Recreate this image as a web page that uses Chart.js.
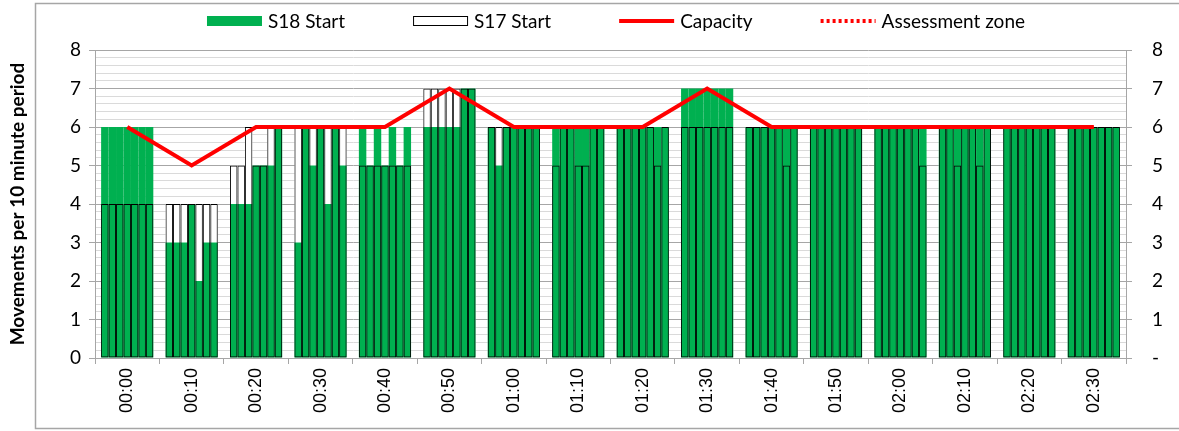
<!DOCTYPE html>
<html>
<head>
<meta charset="utf-8">
<title>Movements per 10 minute period</title>
<script src="https://cdn.jsdelivr.net/npm/chart.js@4.4.0/dist/chart.umd.min.js"></script>
<style>
  html, body { margin: 0; padding: 0; background: #fff; }
  #wrap { position: relative; width: 1179px; height: 431px; }
</style>
</head>
<body>
<div id="wrap"><canvas id="chart"></canvas></div>
<script>
// 10 minute periods on the x axis
const periods = ['00:00', '00:10', '00:20', '00:30', '00:40', '00:50', '01:00', '01:10',
                 '01:20', '01:30', '01:40', '01:50', '02:00', '02:10', '02:20', '02:30'];

// S18 Start, 7 rolling bars per period
const s18Start = [
  [6, 6, 6, 6, 6, 6, 6], // 00:00
  [3, 3, 3, 4, 2, 3, 3], // 00:10
  [4, 4, 4, 5, 5, 5, 6], // 00:20
  [3, 6, 5, 6, 4, 6, 5], // 00:30
  [6, 5, 6, 5, 6, 5, 6], // 00:40
  [6, 6, 6, 6, 6, 7, 7], // 00:50
  [6, 5, 6, 6, 6, 6, 6], // 01:00
  [6, 6, 6, 6, 6, 6, 6], // 01:10
  [6, 6, 6, 6, 6, 6, 6], // 01:20
  [7, 7, 7, 7, 7, 7, 7], // 01:30
  [6, 6, 6, 6, 6, 6, 6], // 01:40
  [6, 6, 6, 6, 6, 6, 6], // 01:50
  [6, 6, 6, 6, 6, 6, 6], // 02:00
  [6, 6, 6, 6, 6, 6, 6], // 02:10
  [6, 6, 6, 6, 6, 6, 6], // 02:20
  [6, 6, 6, 6, 6, 6, 6]  // 02:30
];

// S17 Start, same layout
const s17Start = [
  [4, 4, 4, 4, 4, 4, 4],
  [4, 4, 4, 4, 4, 4, 4],
  [5, 5, 6, 5, 5, 6, 6],
  [6, 6, 6, 6, 6, 6, 6],
  [5, 5, 5, 5, 5, 5, 5],
  [7, 7, 7, 7, 7, 7, 7],
  [6, 6, 6, 6, 6, 6, 6],
  [5, 6, 6, 5, 5, 6, 6],
  [6, 6, 6, 6, 6, 5, 6],
  [6, 6, 6, 6, 6, 6, 6],
  [6, 6, 6, 6, 6, 5, 6],
  [6, 6, 6, 6, 6, 6, 6],
  [6, 6, 6, 6, 6, 6, 5],
  [6, 6, 5, 6, 6, 5, 6],
  [6, 6, 6, 6, 6, 6, 6],
  [6, 6, 6, 6, 6, 6, 6]
];

const capacity = [6, 5, 6, 6, 6, 7, 6, 6, 6, 7, 6, 6, 6, 6, 6, 6];
const assessmentZone = [null, null, null, null, null, null, null, null, null, null, 6, 6, 6, 6, 6, 6];

const yTicks = [0, 1, 2, 3, 4, 5, 6, 7, 8];

const GREEN = '#00b050';
const RED = '#ff0000';
const MAJOR = '#a6a6a6';
const MINOR = '#dadada';
const FONT = 'Lato';

const isWhole = v => Math.abs(v - Math.round(v)) < 1e-6;

// three layers per sub bar: white fill of S17 behind, S18 green, S17 outline on top
const datasets = [];
for (let k = 0; k < 7; k++) {
  datasets.push({
    type: 'bar', label: 'S17 Start', data: s17Start.map(r => r[k]),
    backgroundColor: '#ffffff', borderWidth: 0, stack: 'm' + k, order: 3
  });
  datasets.push({
    type: 'bar', label: 'S18 Start', data: s18Start.map(r => r[k]),
    backgroundColor: GREEN, borderWidth: 0, stack: 'm' + k, order: 2
  });
  datasets.push({
    type: 'bar', label: 'S17 Start', data: s17Start.map(r => r[k]),
    backgroundColor: 'rgba(0,0,0,0)', borderColor: '#000', borderWidth: 0.9,
    borderSkipped: false, inflateAmount: 0, stack: 'm' + k, order: 1
  });
}
datasets.push({
  type: 'line', label: 'Capacity', data: capacity, borderColor: RED, backgroundColor: RED,
  borderWidth: 4, pointRadius: 0, tension: 0, order: 0
});
datasets.push({
  type: 'line', label: 'Assessment zone', data: assessmentZone, borderColor: RED, backgroundColor: RED,
  borderWidth: 3, borderDash: [2, 2], pointRadius: 0, tension: 0, order: 0
});

// legend drawn by hand so the spacing matches
const legendItems = [
  { text: 'S18 Start', kind: 'box', fill: GREEN, stroke: null },
  { text: 'S17 Start', kind: 'box', fill: '#ffffff', stroke: '#000' },
  { text: 'Capacity', kind: 'line', dash: [] },
  { text: 'Assessment zone', kind: 'line', dash: [3, 3] }
];

const framePlugin = {
  id: 'frame',
  beforeDraw(chart) {
    const ctx = chart.ctx;
    ctx.save();
    ctx.fillStyle = '#fff';
    ctx.fillRect(0, 0, chart.width, chart.height);
    ctx.strokeStyle = MAJOR;
    ctx.lineWidth = 1.5;
    ctx.strokeRect(35.5, 3.5, chart.width, 425);
    ctx.restore();
  },
  afterDraw(chart) {
    const ctx = chart.ctx;
    const symW = 55, gap = 6, spacing = 68, cy = 21;
    ctx.save();
    ctx.font = '19px ' + FONT;
    ctx.textBaseline = 'middle';
    const widths = legendItems.map(it => ctx.measureText(it.text).width);
    const total = widths.reduce((a, w) => a + symW + gap + w, 0) + spacing * (legendItems.length - 1);
    let x = 616 - total / 2;
    legendItems.forEach((it, i) => {
      if (it.kind === 'box') {
        ctx.fillStyle = it.fill;
        ctx.fillRect(x, cy - 5, symW, 10);
        if (it.stroke) {
          ctx.strokeStyle = it.stroke;
          ctx.lineWidth = 1;
          ctx.strokeRect(x + 0.5, cy - 4.5, symW - 1, 9);
        }
      } else {
        ctx.strokeStyle = RED;
        ctx.lineWidth = 4;
        ctx.setLineDash(it.dash);
        ctx.beginPath();
        ctx.moveTo(x, cy);
        ctx.lineTo(x + symW, cy);
        ctx.stroke();
        ctx.setLineDash([]);
      }
      ctx.fillStyle = '#000';
      ctx.fillText(it.text, x + symW + gap, cy + 1);
      x += symW + gap + widths[i] + spacing;
    });
    ctx.restore();
  }
};

new Chart(document.getElementById('chart'), {
  type: 'bar',
  data: { labels: periods, datasets: datasets },
  plugins: [framePlugin],
  options: {
    responsive: true,
    maintainAspectRatio: false,
    animation: false,
    layout: { padding: { top: 50, left: 0, right: 0, bottom: 0 } },
    datasets: {
      bar: { barPercentage: 1.0, categoryPercentage: 0.81 }
    },
    plugins: {
      legend: { display: false },
      tooltip: { enabled: false }
    },
    scales: {
      x: {
        offset: true,
        grid: { display: true, offset: true, drawOnChartArea: false, drawTicks: true, tickLength: 6, color: MAJOR },
        border: { display: true, color: MAJOR },
        ticks: {
          autoSkip: false, minRotation: 90, maxRotation: 90, padding: 4, color: '#000',
          font: { family: 'Liberation Sans', size: 18 }
        },
        afterFit: s => { s.height = 73; }
      },
      y: {
        position: 'left', min: 0, max: 8, stacked: false,
        ticks: {
          stepSize: 0.2, autoSkip: false, padding: 8, color: '#000',
          font: { family: FONT, size: 19 },
          callback: v => isWhole(v) && yTicks.includes(Math.round(v)) ? String(Math.round(v)) : ''
        },
        grid: {
          color: c => isWhole(c.tick.value) ? MAJOR : MINOR,
          tickColor: c => isWhole(c.tick.value) ? MAJOR : 'rgba(0,0,0,0)',
          tickLength: 6
        },
        border: { color: MAJOR },
        title: {
          display: true, text: 'Movements per 10 minute period', color: '#000',
          font: { family: FONT, size: 19, weight: 'bold' }, padding: { top: 6, bottom: 0 }
        },
        afterFit: s => { s.width = 95; }
      },
      y2: {
        position: 'right', min: 0, max: 8,
        ticks: {
          stepSize: 1, padding: 20, color: '#000',
          font: { family: FONT, size: 19 },
          callback: v => v === 0 ? '-' : String(v)
        },
        grid: { drawOnChartArea: false, tickLength: 6, color: MAJOR },
        border: { color: MAJOR },
        afterFit: s => { s.width = 53; }
      }
    }
  }
});
</script>
</body>
</html>
